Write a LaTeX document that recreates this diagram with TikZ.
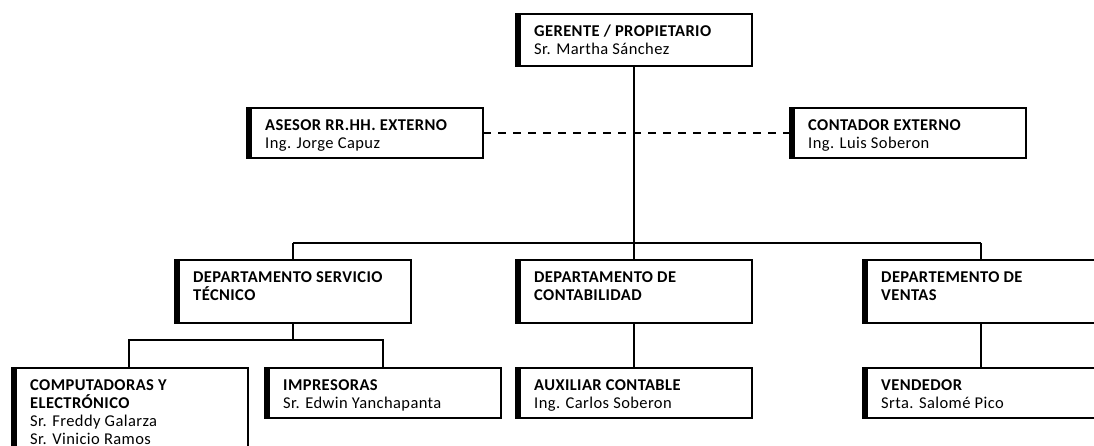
\documentclass[tikz,border=0pt]{standalone}
\usepackage{fontspec}
\setmainfont{Carlito}[LetterSpace=2.5]
\usetikzlibrary{calc}
% box with a thick bar on its left side: name, x, y, height, text
\newcommand{\orgunit}[5]{%
  \node[orgbox, minimum height=#4pt] (#1) at (#2,#3) {};
  \fill[black] (#1.north west) rectangle ++(5,#4);
  \node[orgtext] (#1t) at ($(#1.north west)+(18,22)$)
    {\parbox[t]{215pt}{\raggedright #5}};
}
\begin{document}
\begin{tikzpicture}[x=1pt,y=-1pt,
  orgbox/.style={draw=black, line width=1.2pt, rectangle, anchor=north west,
    minimum width=236pt, inner sep=0pt, outer sep=0pt},
  orgtext/.style={anchor=base west, inner sep=0pt,
    font=\fontsize{16.5pt}{18pt}\selectfont},
  link/.style={draw=black, line width=1.2pt},
  dashedlink/.style={draw=black, line width=1.2pt, dash pattern=on 8pt off 7pt}
]
\clip (0,0) rectangle (1094,445);
\fill[white] (0,0) rectangle (1094,445);

% top level and external advisers
\orgunit{ger}{516}{14}{52}{\textbf{GERENTE / PROPIETARIO}\\Sr. Martha Sánchez}
\orgunit{ase}{247}{108}{50}{\textbf{ASESOR RR.HH. EXTERNO}\\Ing. Jorge Capuz}
\orgunit{con}{790}{108}{50}{\textbf{CONTADOR EXTERNO}\\Ing. Luis Soberon}

% departments
\orgunit{dst}{175}{260}{63}{\textbf{DEPARTAMENTO SERVICIO}\\\textbf{TÉCNICO}}
\orgunit{dco}{516}{260}{63}{\textbf{DEPARTAMENTO DE}\\\textbf{CONTABILIDAD}}
\orgunit{dve}{863}{260}{63}{\textbf{DEPARTEMENTO DE}\\\textbf{VENTAS}}

% staff
\orgunit{comp}{12}{368}{100}{\textbf{COMPUTADORAS Y}\\\textbf{ELECTRÓNICO}\\Sr. Freddy Galarza\\Sr. Vinicio Ramos}
\orgunit{imp}{265}{368}{50}{\textbf{IMPRESORAS}\\Sr. Edwin Yanchapanta}
\orgunit{aux}{516}{368}{50}{\textbf{AUXILIAR CONTABLE}\\Ing. Carlos Soberon}
\orgunit{ven}{863}{368}{50}{\textbf{VENDEDOR}\\Srta. Salomé Pico}

% branch points
\coordinate (b1) at (ger.south |- 0,243);
\coordinate (b2) at (dst.south |- 0,340);

% connectors
\draw[dashedlink] (ase.east) -- (con.west);
\draw[link] (ger.south) -- (b1);
\draw[link] (b1) -- (dco.north);
\draw[link] (dst.north |- b1) -- (dve.north |- b1);
\draw[link] (dst.north |- b1) -- (dst.north);
\draw[link] (dve.north |- b1) -- (dve.north);
\draw[link] (dst.south) -- (b2);
\draw[link] (comp.north -| 129,0) |- (b2);
\draw[link] (imp.north -| 383,0) |- (b2);
\draw[link] (dco.south) -- (aux.north);
\draw[link] (dve.south) -- (ven.north);
\end{tikzpicture}
\end{document}
